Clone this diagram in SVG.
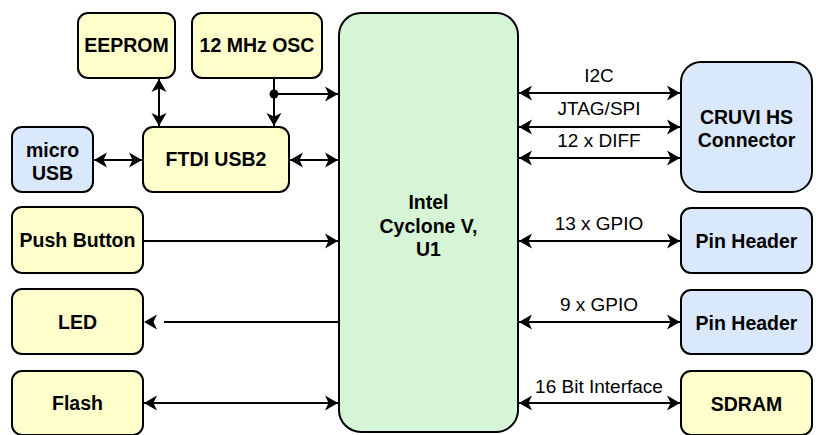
<svg xmlns="http://www.w3.org/2000/svg" width="816" height="435" viewBox="0 0 816 435">
<style>
.box{stroke:#000;stroke-width:2}
.y{fill:#ffffcc}
.b{fill:#dae8fc}
.g{fill:#d6f5d6}
.t{font-family:"Liberation Sans",Arial,sans-serif;font-size:19.5px;font-weight:bold;fill:#000;text-anchor:middle}
.l{font-family:"Liberation Sans",Arial,sans-serif;font-size:19px;fill:#000;text-anchor:middle}
.c{stroke:#000;stroke-width:2;fill:none}
</style>
<defs>
<marker id="ah" markerUnits="userSpaceOnUse" markerWidth="14" markerHeight="16" refX="13" refY="8" orient="auto-start-reverse" viewBox="0 0 14 16">
<path d="M0,0.5 L13,8 L0,15.5 L3.5,8 Z" fill="#000"/>
</marker>
</defs>
<rect width="816" height="435" fill="#fff"/>
<g id="connectors">
<line class="c" x1="159" y1="79" x2="159" y2="126" marker-start="url(#ah)" marker-end="url(#ah)"/>
<line class="c" x1="274" y1="79" x2="274" y2="126" marker-end="url(#ah)"/>
<line class="c" x1="274" y1="94" x2="338" y2="94" marker-end="url(#ah)"/>
<circle cx="274" cy="94" r="4.5" fill="#000"/>
<line class="c" x1="94" y1="160" x2="142" y2="160" marker-start="url(#ah)" marker-end="url(#ah)"/>
<line class="c" x1="290" y1="160" x2="338" y2="160" marker-start="url(#ah)" marker-end="url(#ah)"/>
<line class="c" x1="144" y1="241" x2="338" y2="241" marker-end="url(#ah)"/>
<line class="c" x1="338" y1="322" x2="164" y2="322"/>
<path d="M144,322 L157,314.5 L153.5,322 L157,329.5 Z" fill="#000"/>
<line class="c" x1="144" y1="403" x2="338" y2="403" marker-start="url(#ah)" marker-end="url(#ah)"/>
<line class="c" x1="519" y1="93" x2="680" y2="93" marker-start="url(#ah)" marker-end="url(#ah)"/>
<line class="c" x1="519" y1="127" x2="680" y2="127" marker-start="url(#ah)" marker-end="url(#ah)"/>
<line class="c" x1="519" y1="158" x2="680" y2="158" marker-start="url(#ah)" marker-end="url(#ah)"/>
<line class="c" x1="519" y1="241" x2="680" y2="241" marker-start="url(#ah)" marker-end="url(#ah)"/>
<line class="c" x1="519" y1="322" x2="680" y2="322" marker-start="url(#ah)" marker-end="url(#ah)"/>
<line class="c" x1="519" y1="403" x2="680" y2="403" marker-start="url(#ah)" marker-end="url(#ah)"/>
<text class="l" x="599" y="82">I2C</text>
<text class="l" x="599" y="115">JTAG/SPI</text>
<text class="l" x="599" y="147">12 x DIFF</text>
<text class="l" x="599" y="230">13 x GPIO</text>
<text class="l" x="599" y="311">9 x GPIO</text>
<text class="l" x="599" y="393">16 Bit Interface</text>
</g>
<g id="eeprom"><rect class="box y" x="78" y="13" width="97" height="65" rx="10"/><text class="t" x="126.5" y="52">EEPROM</text></g>
<g id="osc"><rect class="box y" x="192" y="13" width="130" height="65" rx="10"/><text class="t" x="257" y="52">12 MHz OSC</text></g>
<g id="microusb"><rect class="box b" x="12" y="127" width="81" height="65" rx="10"/><text class="t" x="52.5" y="157">micro</text><text class="t" x="52.5" y="180">USB</text></g>
<g id="ftdi"><rect class="box y" x="143" y="127" width="146" height="65" rx="10"/><text class="t" x="216" y="166">FTDI USB2</text></g>
<g id="pushbutton"><rect class="box y" x="12" y="207" width="131" height="66" rx="10"/><text class="t" x="77.5" y="247">Push Button</text></g>
<g id="led"><rect class="box y" x="12" y="289" width="131" height="65" rx="10"/><text class="t" x="77.5" y="329">LED</text></g>
<g id="flash"><rect class="box y" x="12" y="371" width="131" height="64" rx="10"/><text class="t" x="77.5" y="410">Flash</text></g>
<g id="fpga"><rect class="box g" x="339" y="13" width="179" height="419" rx="22"/><text class="t" x="428.5" y="209">Intel</text><text class="t" x="428.5" y="232.5">Cyclone V,</text><text class="t" x="428.5" y="256">U1</text></g>
<g id="cruvi"><rect class="box b" x="681" y="62" width="131" height="130" rx="20"/><text class="t" x="746.5" y="124">CRUVI HS</text><text class="t" x="746.5" y="147">Connector</text></g>
<g id="pinheader1"><rect class="box b" x="681" y="208" width="131" height="65" rx="10"/><text class="t" x="746.5" y="248">Pin Header</text></g>
<g id="pinheader2"><rect class="box b" x="681" y="290" width="131" height="64" rx="10"/><text class="t" x="746.5" y="330">Pin Header</text></g>
<g id="sdram"><rect class="box y" x="681" y="371" width="131" height="64" rx="10"/><text class="t" x="746.5" y="411">SDRAM</text></g>
</svg>
